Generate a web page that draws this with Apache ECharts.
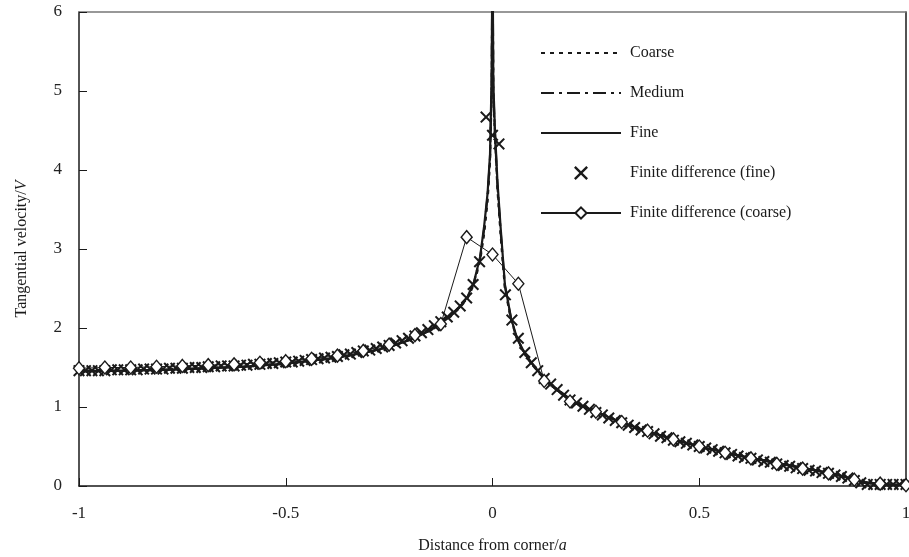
<!DOCTYPE html>
<html>
<head>
<meta charset="utf-8">
<script src="https://cdn.jsdelivr.net/npm/echarts@6/dist/echarts.min.js"></script>
<style>
html,body{margin:0;padding:0;background:#fff;}
#chart{width:909px;height:557px;}
</style>
</head>
<body>
<div id="chart"></div>
<script>
// ---- data ----
const seriesNames = ['Coarse', 'Medium', 'Fine', 'Finite difference (fine)', 'Finite difference (coarse)'];

const lineX = [-1, -0.9, -0.8, -0.7, -0.6, -0.5, -0.45, -0.4, -0.35, -0.3, -0.25, -0.2,
  -0.15, -0.125, -0.1, -0.08, -0.06, -0.045, -0.03, -0.02, -0.012, -0.006, -0.002, 0,
  0.002, 0.006, 0.012, 0.02, 0.03, 0.045, 0.06, 0.08, 0.1, 0.125, 0.15, 0.2,
  0.25, 0.3, 0.35, 0.4, 0.45, 0.5, 0.55, 0.6, 0.65, 0.7, 0.75, 0.8, 0.85, 0.88, 0.9, 0.95, 1];

const coarseY = [1.46, 1.47, 1.48, 1.49, 1.51, 1.55, 1.58, 1.61, 1.65, 1.70, 1.76, 1.85,
  1.97, 2.05, 2.15, 2.25, 2.38, 2.55, 2.85, 3.20, 3.60, 4.10, 5.00, 6.60,
  4.90, 4.40, 3.75, 3.15, 2.50, 2.10, 1.85, 1.65, 1.51, 1.37, 1.25, 1.05,
  0.94, 0.83, 0.73, 0.65, 0.57, 0.50, 0.44, 0.38, 0.33, 0.28, 0.23, 0.18, 0.12, 0.07, 0.04, 0.02, 0.01];

const mediumY = [1.45, 1.46, 1.47, 1.49, 1.51, 1.55, 1.58, 1.61, 1.65, 1.70, 1.76, 1.85,
  1.97, 2.06, 2.16, 2.26, 2.39, 2.57, 2.88, 3.26, 3.66, 4.15, 5.10, 6.80,
  5.00, 4.45, 3.80, 3.20, 2.53, 2.11, 1.86, 1.66, 1.52, 1.37, 1.25, 1.05,
  0.94, 0.83, 0.73, 0.65, 0.57, 0.50, 0.44, 0.38, 0.33, 0.28, 0.23, 0.18, 0.12, 0.07, 0.04, 0.02, 0.01];

const fineY = [1.45, 1.46, 1.47, 1.49, 1.51, 1.55, 1.58, 1.61, 1.65, 1.70, 1.76, 1.85,
  1.97, 2.06, 2.16, 2.26, 2.40, 2.58, 2.90, 3.30, 3.70, 4.20, 5.20, 7.00,
  5.10, 4.50, 3.85, 3.25, 2.55, 2.12, 1.86, 1.66, 1.52, 1.37, 1.25, 1.05,
  0.94, 0.83, 0.73, 0.65, 0.57, 0.50, 0.44, 0.38, 0.33, 0.28, 0.23, 0.18, 0.12, 0.07, 0.04, 0.02, 0.01];

// Finite difference (fine): x = k/64, k = -64..64
const fdFineX = [
  -1, -0.984375, -0.96875, -0.953125, -0.9375, -0.921875, -0.90625, -0.890625,
  -0.875, -0.859375, -0.84375, -0.828125, -0.8125, -0.796875, -0.78125, -0.765625,
  -0.75, -0.734375, -0.71875, -0.703125, -0.6875, -0.671875, -0.65625, -0.640625,
  -0.625, -0.609375, -0.59375, -0.578125, -0.5625, -0.546875, -0.53125, -0.515625,
  -0.5, -0.484375, -0.46875, -0.453125, -0.4375, -0.421875, -0.40625, -0.390625,
  -0.375, -0.359375, -0.34375, -0.328125, -0.3125, -0.296875, -0.28125, -0.265625,
  -0.25, -0.234375, -0.21875, -0.203125, -0.1875, -0.171875, -0.15625, -0.140625,
  -0.125, -0.109375, -0.09375, -0.078125, -0.0625, -0.046875, -0.03125, -0.015625,
  0,
  0.015625, 0.03125, 0.046875, 0.0625, 0.078125, 0.09375, 0.109375, 0.125,
  0.140625, 0.15625, 0.171875, 0.1875, 0.203125, 0.21875, 0.234375, 0.25,
  0.265625, 0.28125, 0.296875, 0.3125, 0.328125, 0.34375, 0.359375, 0.375,
  0.390625, 0.40625, 0.421875, 0.4375, 0.453125, 0.46875, 0.484375, 0.5,
  0.515625, 0.53125, 0.546875, 0.5625, 0.578125, 0.59375, 0.609375, 0.625,
  0.640625, 0.65625, 0.671875, 0.6875, 0.703125, 0.71875, 0.734375, 0.75,
  0.765625, 0.78125, 0.796875, 0.8125, 0.828125, 0.84375, 0.859375, 0.875,
  0.890625, 0.90625, 0.921875, 0.9375, 0.953125, 0.96875, 0.984375, 1];
const fdFineY = [
  1.46, 1.46, 1.46, 1.46, 1.46, 1.47, 1.47, 1.47,
  1.47, 1.47, 1.48, 1.48, 1.48, 1.48, 1.49, 1.49,
  1.49, 1.50, 1.50, 1.50, 1.51, 1.51, 1.52, 1.52,
  1.52, 1.53, 1.53, 1.54, 1.54, 1.55, 1.55, 1.56,
  1.57, 1.57, 1.58, 1.59, 1.60, 1.61, 1.62, 1.63,
  1.64, 1.66, 1.67, 1.69, 1.71, 1.72, 1.74, 1.76,
  1.78, 1.81, 1.84, 1.87, 1.90, 1.94, 1.98, 2.03,
  2.08, 2.14, 2.20, 2.28, 2.38, 2.55, 2.84, 4.67,
  4.44,
  4.33, 2.42, 2.10, 1.87, 1.69, 1.56, 1.46, 1.36,
  1.29, 1.22, 1.15, 1.09, 1.05, 1.01, 0.97, 0.93,
  0.90, 0.86, 0.83, 0.80, 0.77, 0.74, 0.71, 0.69,
  0.66, 0.63, 0.61, 0.58, 0.56, 0.54, 0.52, 0.50,
  0.48, 0.46, 0.44, 0.42, 0.40, 0.38, 0.36, 0.35,
  0.33, 0.31, 0.30, 0.28, 0.26, 0.25, 0.23, 0.22,
  0.20, 0.19, 0.17, 0.16, 0.14, 0.12, 0.10, 0.07,
  0.04, 0.02, 0.02, 0.02, 0.02, 0.02, 0.02, 0.02];

// Finite difference (coarse): x = k/16, k = -16..16
const fdCoarseX = [-1, -0.9375, -0.875, -0.8125, -0.75, -0.6875, -0.625, -0.5625,
  -0.5, -0.4375, -0.375, -0.3125, -0.25, -0.1875, -0.125, -0.0625, 0,
  0.0625, 0.125, 0.1875, 0.25, 0.3125, 0.375, 0.4375, 0.5,
  0.5625, 0.625, 0.6875, 0.75, 0.8125, 0.875, 0.9375, 1];
const fdCoarseY = [1.49, 1.50, 1.50, 1.51, 1.52, 1.53, 1.54, 1.56,
  1.58, 1.61, 1.65, 1.71, 1.79, 1.91, 2.05, 3.15, 2.93,
  2.56, 1.33, 1.07, 0.94, 0.81, 0.70, 0.59, 0.50,
  0.42, 0.35, 0.28, 0.22, 0.16, 0.08, 0.03, 0.01];

const xTicks = [-1, -0.5, 0, 0.5, 1];
const yTicks = [0, 1, 2, 3, 4, 5, 6];

// ---- build ----
const zip = (xs, ys) => xs.map((x, i) => [x, ys[i]]);
const FONT = "'Liberation Serif', 'Times New Roman', serif";
const INK = '#1a1a1a';
const crossPath = 'path://M0,1.2 L1.2,0 L5,3.8 L8.8,0 L10,1.2 L6.2,5 L10,8.8 L8.8,10 L5,6.2 L1.2,10 L0,8.8 L3.8,5 Z';

const chart = echarts.init(document.getElementById('chart'), null, {renderer: 'canvas'});
chart.setOption({
  animation: false,
  backgroundColor: '#fff',
  textStyle: {fontFamily: FONT, color: INK},
  grid: {left: 79, right: 3, top: 12, bottom: 71, containLabel: false, outerBoundsMode: 'none'},
  legend: {
    orient: 'vertical',
    left: 535,
    top: 40,
    itemWidth: 80,
    itemHeight: 14,
    itemGap: 24,
    selectedMode: false,
    textStyle: {fontFamily: FONT, fontSize: 16, color: INK, padding: [0, 0, 0, 4]},
    data: [
      {name: seriesNames[0], itemStyle: {opacity: 0}},
      {name: seriesNames[1], itemStyle: {opacity: 0}},
      {name: seriesNames[2], itemStyle: {opacity: 0}},
      {name: seriesNames[3]},
      {name: seriesNames[4]}
    ]
  },
  xAxis: [{
    type: 'value', min: -1, max: 1, interval: 0.5, position: 'bottom',
    axisLine: {onZero: false, lineStyle: {color: INK, width: 1.5}},
    axisTick: {inside: true, length: 8, lineStyle: {color: INK, width: 1}},
    axisLabel: {margin: 19, fontSize: 17, color: '#222', fontFamily: FONT,
      formatter: v => String(xTicks.find(t => Math.abs(t - v) < 1e-9) ?? v)},
    splitLine: {show: false},
    name: 'Distance from corner/{i|a}',
    nameLocation: 'middle', nameGap: 52,
    nameTextStyle: {fontFamily: FONT, fontSize: 16, color: INK,
      rich: {i: {fontStyle: 'italic', fontFamily: FONT, fontSize: 16, color: INK}}}
  }, {
    type: 'value', min: -1, max: 1, position: 'top',
    axisLine: {show: true, onZero: false, lineStyle: {color: '#777', width: 1.5}},
    axisTick: {show: false}, axisLabel: {show: false}, splitLine: {show: false}
  }],
  yAxis: [{
    type: 'value', min: 0, max: 6, interval: 1, position: 'left',
    axisLine: {show: true, onZero: false, lineStyle: {color: INK, width: 1.5}},
    axisTick: {show: true, inside: true, length: 8, lineStyle: {color: INK, width: 1}},
    axisLabel: {margin: 17, fontSize: 17, color: '#222', fontFamily: FONT,
      formatter: v => String(yTicks.find(t => Math.abs(t - v) < 1e-9) ?? v)},
    splitLine: {show: false},
    name: 'Tangential velocity/{i|V}',
    nameLocation: 'middle', nameGap: 49,
    nameTextStyle: {fontFamily: FONT, fontSize: 16, color: INK,
      rich: {i: {fontStyle: 'italic', fontFamily: FONT, fontSize: 16, color: INK}}}
  }, {
    type: 'value', min: 0, max: 6, position: 'right',
    axisLine: {show: true, onZero: false, lineStyle: {color: INK, width: 1.5}},
    axisTick: {show: false}, axisLabel: {show: false}, splitLine: {show: false}
  }],
  series: [
    {
      name: seriesNames[0], type: 'line', data: zip(lineX, coarseY),
      symbol: 'none', showSymbol: false, clip: true, color: INK,
      lineStyle: {color: INK, width: 2.2, type: [4, 5]}
    },
    {
      name: seriesNames[1], type: 'line', data: zip(lineX, mediumY),
      symbol: 'none', showSymbol: false, clip: true, color: INK,
      lineStyle: {color: INK, width: 2.2, type: [13, 5, 3, 5]}
    },
    {
      name: seriesNames[2], type: 'line', data: zip(lineX, fineY),
      symbol: 'none', showSymbol: false, clip: true, color: INK,
      lineStyle: {color: INK, width: 2.2}
    },
    {
      name: seriesNames[3], type: 'scatter', data: zip(fdFineX, fdFineY),
      symbol: crossPath, symbolSize: 12, clip: true,
      itemStyle: {color: INK, opacity: 1}
    },
    {
      name: seriesNames[4], type: 'line', data: zip(fdCoarseX, fdCoarseY),
      symbol: 'diamond', symbolSize: [11, 13], showSymbol: true, clip: true, color: INK,
      lineStyle: {color: INK, width: 1},
      itemStyle: {color: '#fff', borderColor: INK, borderWidth: 1.4}
    }
  ]
});
</script>
</body>
</html>
